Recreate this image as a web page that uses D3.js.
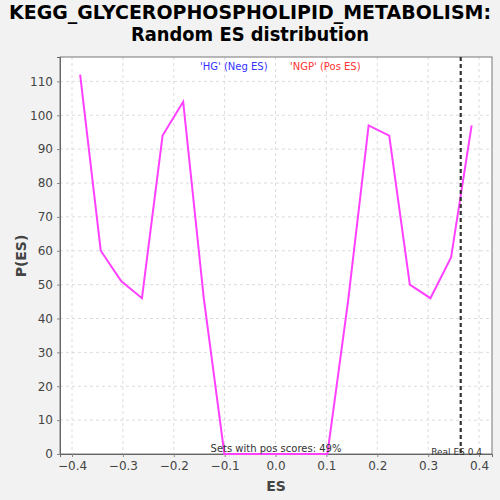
<!DOCTYPE html>
<html><head><meta charset="utf-8">
<script src="https://cdn.jsdelivr.net/npm/d3@7"></script>
<style>body{margin:0;background:#f2f2f2}svg{display:block}</style>
</head><body>
<script>
const esValues = [-0.384,-0.3435,-0.303,-0.2625,-0.222,-0.1815,-0.141,-0.1005,-0.06,-0.0195,0.021,0.0615,0.102,0.1425,0.183,0.2235,0.264,0.3045,0.345,0.3855];
const pValues = [112,60,51,46,94,104,46,0,0,0,0,0,0,45,97,94,50,46,58,97];
const xTicks = [-0.4,-0.3,-0.2,-0.1,0.0,0.1,0.2,0.3,0.4];
const yTicks = [0,10,20,30,40,50,60,70,80,90,100,110];
const realES = 0.364;
const titleLines = ["KEGG_GLYCEROPHOSPHOLIPID_METABOLISM:","Random ES distribution"];

const W=500,H=500, m={l:60,r:8,t:57,b:46};
const svg=d3.select("body").append("svg").attr("width",W).attr("height",H);
svg.append("rect").attr("width",W).attr("height",H).attr("fill","#f2f2f2");
const x=d3.scaleLinear().domain([-0.4236,0.4255]).range([m.l,W-m.r]);
const y=d3.scaleLinear().domain([0,117.2]).range([H-m.b,m.t]);
svg.append("rect").attr("x",m.l).attr("y",m.t).attr("width",W-m.r-m.l).attr("height",H-m.b-m.t).attr("fill","#fff");
// grid
const g=svg.append("g");
g.selectAll(".vg").data(xTicks).join("line").attr("x1",d=>x(d)).attr("x2",d=>x(d)).attr("y1",m.t).attr("y2",H-m.b).attr("stroke","#dcdcdc").attr("stroke-dasharray","3,3");
g.selectAll(".hg").data(yTicks.slice(1)).join("line").attr("y1",d=>y(d)).attr("y2",d=>y(d)).attr("x1",m.l).attr("x2",W-m.r).attr("stroke","#dcdcdc").attr("stroke-dasharray","3,3");
// border
svg.append("rect").attr("x",m.l).attr("y",m.t).attr("width",W-m.r-m.l).attr("height",H-m.b-m.t).attr("fill","none").attr("stroke","#777").attr("stroke-width",1);
// axes
const xa=svg.append("g").attr("transform",`translate(0,${H-m.b})`).call(d3.axisBottom(x).tickValues(xTicks).tickFormat(d3.format(".1f")).tickSize(3).tickPadding(4));
const ya=svg.append("g").attr("transform",`translate(${m.l},0)`).call(d3.axisLeft(y).tickValues(yTicks).tickSize(3).tickPadding(4));
[xa,ya].forEach(a=>{a.select(".domain").attr("stroke","#666");a.selectAll(".tick line").attr("stroke","#888");a.selectAll("text").attr("font-family","DejaVu Sans").attr("font-size",12).attr("fill","#444");});
// labels
svg.append("text").attr("x",276).attr("y",491).attr("text-anchor","middle").attr("font-family","DejaVu Sans").attr("font-weight","bold").attr("font-size",14).attr("fill","#444").text("ES");
svg.append("text").attr("transform","translate(26,256) rotate(-90)").attr("text-anchor","middle").attr("font-family","DejaVu Sans").attr("font-weight","bold").attr("font-size",14).attr("fill","#444").text("P(ES)");
// title
titleLines.forEach((t,i)=>svg.append("text").attr("x",250).attr("y",19+i*22).attr("text-anchor","middle").attr("font-family","DejaVu Sans").attr("font-weight","bold").attr("font-size",19).attr("fill","#000")
  .attr("textLength",i==0?482:238).attr("lengthAdjust","spacingAndGlyphs").text(t));
// legend
svg.append("text").attr("x",200).attr("y",70).attr("font-family","DejaVu Sans").attr("font-size",10).attr("fill","#3333ff").text("'HG' (Neg ES)");
svg.append("text").attr("x",290).attr("y",70).attr("font-family","DejaVu Sans").attr("font-size",10).attr("fill","#ff3333").text("'NGP' (Pos ES)");
// line
svg.append("path").datum(esValues.map((v,i)=>[v,pValues[i]])).attr("fill","none").attr("stroke","#ff40ff").attr("stroke-width",2)
  .attr("d",d3.line().x(d=>x(d[0])).y(d=>y(d[1])));
// real ES
svg.append("line").attr("x1",x(realES)).attr("x2",x(realES)).attr("y1",m.t).attr("y2",H-m.b).attr("stroke","#333").attr("stroke-width",2.2).attr("stroke-dasharray","4,3");
svg.append("text").attr("x",276).attr("y",452).attr("text-anchor","middle").attr("font-family","DejaVu Sans").attr("font-size",10).attr("fill","#333").text("Sets with pos scores: 49%");
svg.append("text").attr("x",482).attr("y",455).attr("text-anchor","end").attr("font-family","DejaVu Sans").attr("font-size",9).attr("fill","#333").text("Real ES 0.4");
</script>
</body></html>
